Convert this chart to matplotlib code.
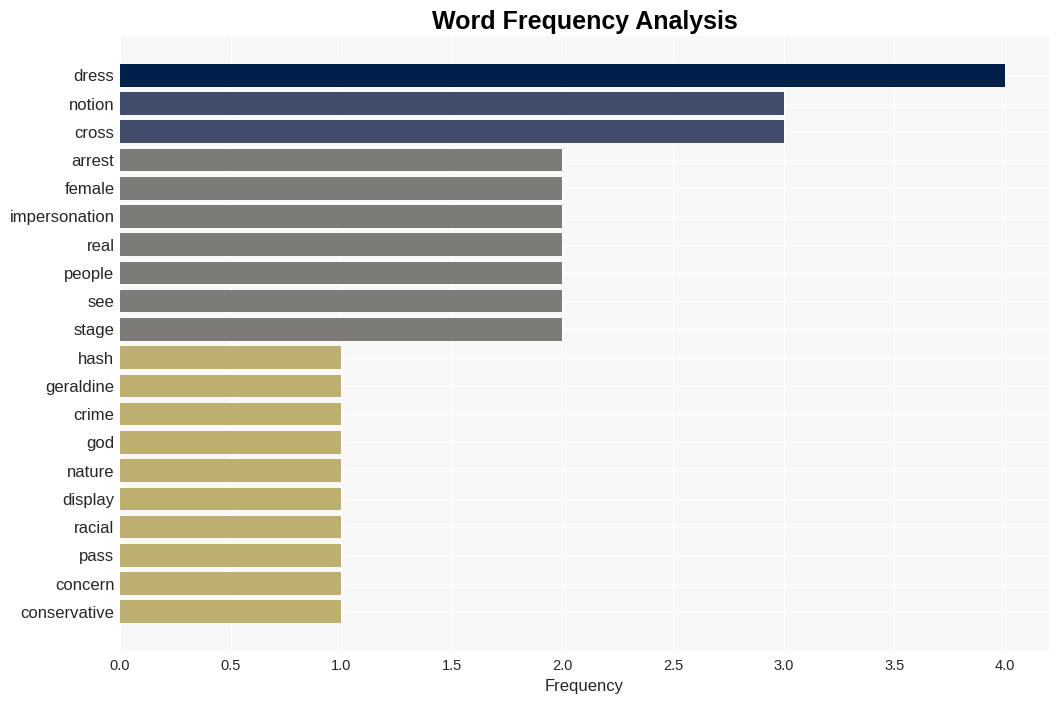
import numpy as np
import matplotlib.pyplot as plt

plt.rcParams['font.family'] = ['Liberation Sans', 'DejaVu Sans']

words = ['dress', 'notion', 'cross', 'arrest', 'female', 'impersonation', 'real',
         'people', 'see', 'stage', 'hash', 'geraldine', 'crime', 'god', 'nature',
         'display', 'racial', 'pass', 'concern', 'conservative']
freqs = [4, 3, 3, 2, 2, 2, 2, 2, 2, 2, 1, 1, 1, 1, 1, 1, 1, 1, 1, 1]

color_map = {4: '#00204c', 3: '#414d6b', 2: '#7c7b78', 1: '#bcaf6f'}
colors = [color_map[f] for f in freqs]

fig = plt.figure(figsize=(10.59, 7.01), dpi=100)
ax = fig.add_axes([0.1133, 0.0713, 0.8773, 0.8773])
ax.set_facecolor('#f8f8f8')

y = np.arange(len(words))
ax.barh(y, freqs, color=colors, height=0.8, zorder=2)
ax.set_yticks(y)
ax.set_yticklabels(words, fontsize=12, color='#262626')
ax.invert_yaxis()
ax.set_xticks(np.arange(0, 4.01, 0.5))
ax.set_xticklabels([f'{v:.1f}' for v in np.arange(0, 4.01, 0.5)], fontsize=10.5, color='#262626')
ax.set_xlim(0, 4.2)

ax.grid(True, color='white', linewidth=1, zorder=0)
ax.set_axisbelow(True)
for s in ax.spines.values():
    s.set_visible(False)
ax.tick_params(axis='y', length=0, pad=4)
ax.tick_params(axis='x', length=0, pad=6)

ax.set_xlabel('Frequency', fontsize=12, color='#262626')
ax.set_title('Word Frequency Analysis', fontsize=18, fontweight='bold', pad=5)

plt.savefig('out.png', dpi=100)
